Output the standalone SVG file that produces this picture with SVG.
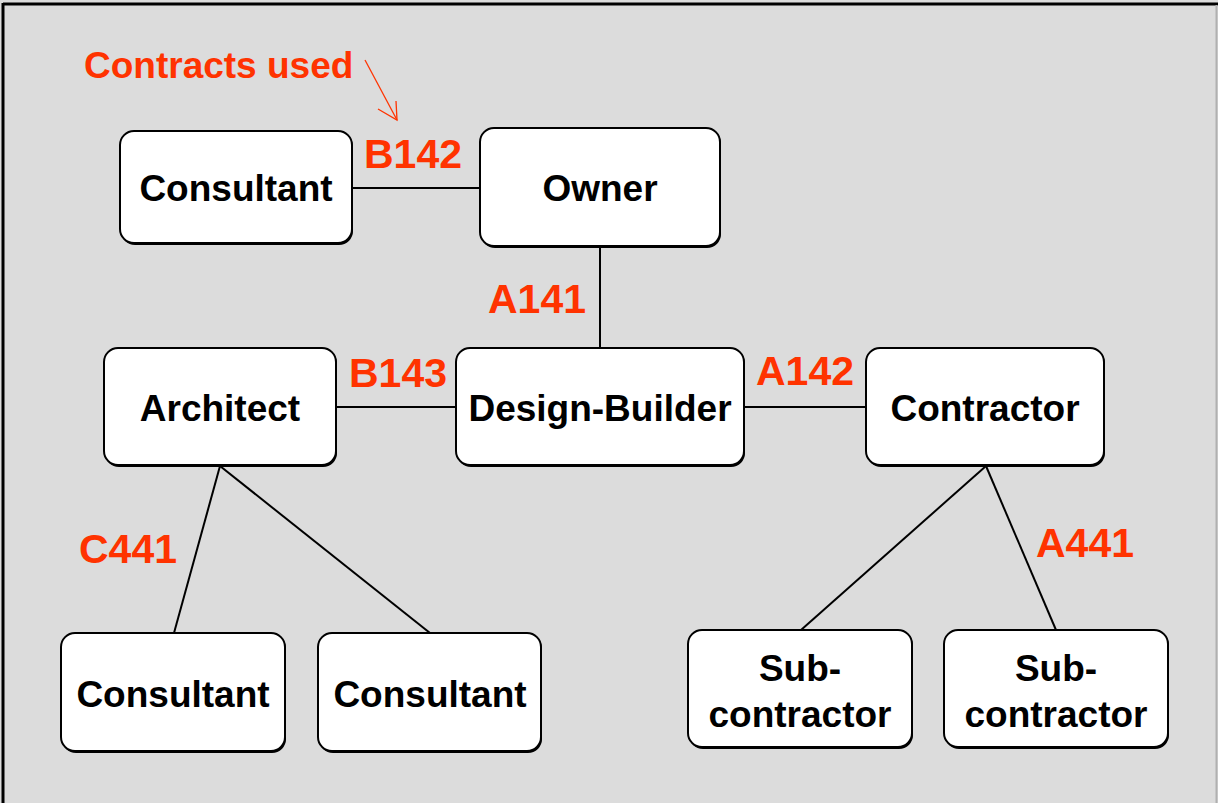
<svg xmlns="http://www.w3.org/2000/svg" width="1218" height="803" viewBox="0 0 1218 803">
<style>
.box{fill:#ffffff;stroke:#000000;stroke-width:2}
.shadow{fill:#000000}
.nt{font-family:"Liberation Sans",Arial,sans-serif;font-weight:bold;font-size:37px;fill:#000000;text-anchor:middle}
.lab{font-family:"Liberation Sans",Arial,sans-serif;font-weight:bold;font-size:41px;fill:#ff3300}
.conn{stroke:#000000;stroke-width:2;fill:none}
</style>
<rect x="0" y="0" width="1218" height="803" fill="#dcdcdc"/>
<line x1="3" y1="4" x2="1218" y2="4" stroke="#000" stroke-width="3"/>
<line x1="3" y1="3" x2="3" y2="803" stroke="#000" stroke-width="3"/>
<line x1="1216.5" y1="5" x2="1216.5" y2="803" stroke="#b0b0b0" stroke-width="2"/>
<g id="connectors">
<line class="conn" x1="352" y1="188" x2="480" y2="188"/>
<line class="conn" x1="600" y1="246" x2="600" y2="348"/>
<line class="conn" x1="336" y1="407" x2="456" y2="407"/>
<line class="conn" x1="744" y1="407" x2="866" y2="407"/>
<line class="conn" x1="220" y1="466" x2="174" y2="633"/>
<line class="conn" x1="220" y1="466" x2="430" y2="633"/>
<line class="conn" x1="986" y1="466" x2="801" y2="630"/>
<line class="conn" x1="986" y1="466" x2="1056" y2="630"/>
<line x1="365" y1="60" x2="397" y2="120" stroke="#ff3300" stroke-width="1.3"/>
<polyline points="378,109 397,120 396,101" stroke="#ff3300" stroke-width="1.3" fill="none"/>
</g>
<g id="consultant-top"><rect class="shadow" x="121" y="133" width="232" height="112" rx="14"/><rect class="box" x="120" y="131" width="232" height="112" rx="14"/><text class="nt" x="236" y="201">Consultant</text></g>
<g id="owner"><rect class="shadow" x="481" y="130" width="240" height="118" rx="14"/><rect class="box" x="480" y="128" width="240" height="118" rx="14"/><text class="nt" x="600" y="201">Owner</text></g>
<g id="architect"><rect class="shadow" x="105" y="350" width="232" height="117" rx="14"/><rect class="box" x="104" y="348" width="232" height="117" rx="14"/><text class="nt" x="220" y="421">Architect</text></g>
<g id="design-builder"><rect class="shadow" x="457" y="350" width="288" height="117" rx="14"/><rect class="box" x="456" y="348" width="288" height="117" rx="14"/><text class="nt" x="600" y="421">Design-Builder</text></g>
<g id="contractor"><rect class="shadow" x="867" y="350" width="238" height="117" rx="14"/><rect class="box" x="866" y="348" width="238" height="117" rx="14"/><text class="nt" x="985" y="421">Contractor</text></g>
<g id="consultant-1"><rect class="shadow" x="62" y="635" width="224" height="118" rx="14"/><rect class="box" x="61" y="633" width="224" height="118" rx="14"/><text class="nt" x="173" y="707">Consultant</text></g>
<g id="consultant-2"><rect class="shadow" x="319" y="635" width="223" height="118" rx="14"/><rect class="box" x="318" y="633" width="223" height="118" rx="14"/><text class="nt" x="430" y="707">Consultant</text></g>
<g id="sub-1"><rect class="shadow" x="689" y="632" width="224" height="117" rx="14"/><rect class="box" x="688" y="630" width="224" height="117" rx="14"/><text class="nt" x="800" y="681">Sub-</text><text class="nt" x="800" y="727">contractor</text></g>
<g id="sub-2"><rect class="shadow" x="945" y="632" width="224" height="117" rx="14"/><rect class="box" x="944" y="630" width="224" height="117" rx="14"/><text class="nt" x="1056" y="681">Sub-</text><text class="nt" x="1056" y="727">contractor</text></g>
<g id="labels">
<text class="lab" x="84" y="78" style="font-size:37px">Contracts used</text>
<text class="lab" x="364" y="168">B142</text>
<text class="lab" x="488" y="313">A141</text>
<text class="lab" x="349" y="387">B143</text>
<text class="lab" x="756" y="385">A142</text>
<text class="lab" x="79" y="563">C441</text>
<text class="lab" x="1036" y="557">A441</text>
</g>
</svg>
